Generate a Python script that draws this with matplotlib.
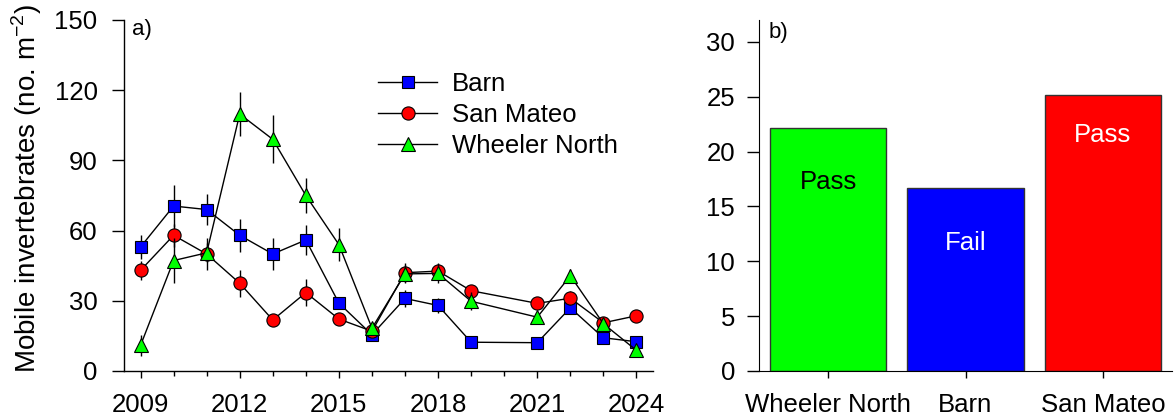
import matplotlib
matplotlib.use("Agg")
import matplotlib.pyplot as plt
from matplotlib.ticker import MultipleLocator, FixedLocator

plt.rcParams['font.family'] = ['Liberation Sans', 'DejaVu Sans']
plt.rcParams['mathtext.fontset'] = 'custom'
plt.rcParams['mathtext.rm'] = 'Liberation Sans'

# ---------------- data ----------------
years = [2009, 2010, 2011, 2012, 2013, 2014, 2015, 2016, 2017, 2018, 2019, 2021, 2022, 2023, 2024]

barn = [53, 70.5, 69, 58, 50, 56, 29, 15.5, 31, 28, 12.3, 12.1, 27, 14.2, 12.5]
barn_err = [5, 9, 6.8, 7, 7, 6.6, 2, 1.5, 3.8, 3.4, 1, 1, 2, 1.5, 1]

san_mateo = [43, 58, 50, 37.5, 21.8, 33.5, 22.2, 17, 42, 42.7, 34.3, 28.9, 31.1, 20.6, 23.6]
san_mateo_err = [4, 5, 7, 5.7, 1.5, 5.7, 2, 1.5, 4, 3.5, 2, 2, 3, 1.5, 1.5]

wheeler = [10.9, 47.2, 50.5, 109.8, 99, 75, 54, 18.3, 41.5, 41.7, 29.8, 23, 40.7, 20.2, 8.8]
wheeler_err = [4.5, 9.7, 4, 9.3, 10.3, 7.3, 7.1, 2, 4, 4, 3.9, 2, 3, 2, 2]

year_ticks = [2009, 2012, 2015, 2018, 2021, 2024]

sites = ['Wheeler North', 'Barn', 'San Mateo']
site_values = [22.17, 16.64, 25.14]
site_results = ['Pass', 'Fail', 'Pass']

# ---------------- figure ----------------
fig = plt.figure(figsize=(11.74, 4.2), dpi=100)
ax1 = fig.add_axes([124/1174, 49/420, 529/1174, 351/420])
ax2 = fig.add_axes([759.3/1174, 49/420, 412.4/1174, 351/420])

series = [
    ('Barn', barn, barn_err, 's', '#0000FF', 9),
    ('San Mateo', san_mateo, san_mateo_err, 'o', '#FF0000', 9.5),
    ('Wheeler North', wheeler, wheeler_err, '^', '#00FF00', 10),
]
handles = []
for i, (name, vals, errs, mk, col, ms) in enumerate(series):
    eb = ax1.errorbar(years, vals, yerr=errs, fmt='-', color='black', lw=1,
                      marker=mk, markersize=ms, markerfacecolor=col,
                      markeredgecolor='black', markeredgewidth=0.8,
                      ecolor='black', elinewidth=1, capsize=0,
                      zorder=3 + i, label=name)
    handles.append(eb[0])

ax1.set_xlim(2008.5, 2024.5)
ax1.set_ylim(0, 150)
ax1.xaxis.set_major_locator(FixedLocator(year_ticks))
ax1.xaxis.set_minor_locator(MultipleLocator(1))
ax1.yaxis.set_major_locator(MultipleLocator(30))
for s in ['top', 'right']:
    ax1.spines[s].set_visible(False)
for s in ['left', 'bottom']:
    ax1.spines[s].set_linewidth(1)
ax1.tick_params(axis='x', which='major', length=5, width=1, labelsize=18.5, pad=11)
ax1.tick_params(axis='x', which='minor', length=3.5, width=1)
ax1.tick_params(axis='y', which='major', length=9, width=1, labelsize=18.5, pad=10)
ax1.set_ylabel(r'Mobile invertebrates (no. m$^{\mathregular{-2}}$)', fontsize=20)
ax1.yaxis.set_label_coords(-0.152, 0.52)
ax1.text(0.015, 1.003, 'a)', transform=ax1.transAxes, fontsize=16, ha='left', va='top')

leg = ax1.legend(handles=handles, labels=[s[0] for s in series],
                 loc='upper left', bbox_to_anchor=(378/1174, 1 - 72/420),
                 bbox_transform=fig.transFigure, frameon=False,
                 fontsize=18.5, borderpad=0, borderaxespad=0,
                 handlelength=2.3, handletextpad=0.58, labelspacing=0.27,
                 markerscale=1.0)

# ---------------- panel b ----------------
x = list(range(len(sites)))
bar_colors = ['#00FF00', '#0000FF', '#FF0000']
ax2.bar(x, site_values, width=0.85, color=bar_colors, edgecolor='#333333', linewidth=1)
text_colors = ['black', 'white', 'white']
label_drop = [5.6, 5.6, 4.3]
for xi, v, r, tc, d in zip(x, site_values, site_results, text_colors, label_drop):
    ax2.text(xi, v - d, r, ha='center', va='baseline', color=tc, fontsize=18.5)

ax2.set_xlim(-0.5, 2.5)
ax2.set_ylim(0, 32)
ax2.set_xticks(x)
ax2.set_xticklabels(sites)
ax2.yaxis.set_major_locator(MultipleLocator(5))
for s in ['top', 'right']:
    ax2.spines[s].set_visible(False)
ax2.tick_params(axis='x', length=5, width=1, labelsize=18.5, pad=11)
ax2.tick_params(axis='y', length=9, width=1, labelsize=18.5, pad=8.5)
ax2.text(0.022, 0.993, 'b)', transform=ax2.transAxes, fontsize=16, ha='left', va='top')

fig.savefig('out.png', dpi=100)
